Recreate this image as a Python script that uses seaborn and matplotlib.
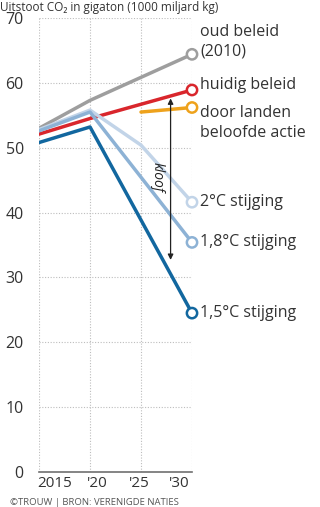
import matplotlib
matplotlib.use("Agg")
import matplotlib.pyplot as plt
import matplotlib.transforms as mtransforms
import seaborn as sns
import pandas as pd

sns.set_theme(style="white")
plt.rcParams['font.family'] = ['Open Sans', 'DejaVu Sans']

years = [2015, 2020, 2025, 2030]
series_names = ["oud beleid", "huidig beleid", "door landen", "2°C", "1,8°C", "1,5°C"]
oud_beleid = [53.0, 57.3, None, 64.4]
huidig_beleid = [52.1, 54.5, None, 58.9]
door_landen = [None, None, 55.5, 56.2]
stijging_2 = [52.8, 55.8, 50.4, 41.6]
stijging_18 = [52.6, 55.5, None, 35.4]
stijging_15 = [50.8, 53.2, None, 24.5]
end_labels = ["oud beleid\n(2010)", "huidig beleid", "door landen\nbeloofde actie",
              "2°C stijging", "1,8°C stijging", "1,5°C stijging"]
x_tick_labels = ["2015", "'20", "'25", "'30"]
y_ticks = [0, 10, 20, 30, 40, 50, 60, 70]
kloof_x = 2027.9
kloof_top = 57.6
kloof_bottom = 32.7

colors = ["#9e9e9e", "#d9262c", "#eea21c", "#c2d4e8", "#8db2d5", "#12679f"]

values = [oud_beleid, huidig_beleid, door_landen, stijging_2, stijging_18, stijging_15]
rows = []
for name, vals in zip(series_names, values):
    for y, v in zip(years, vals):
        if v is not None:
            rows.append({"jaar": y, "uitstoot": v, "scenario": name})
df = pd.DataFrame(rows)
ends = df[df["jaar"] == 2030].copy()

fig = plt.figure(figsize=(3.2, 5.07), dpi=100)
ax = fig.add_axes([0.122, 0.069, 0.478, 0.8955])

# grid
for yt in y_ticks[1:]:
    ax.axhline(yt, color="#bdbdbd", lw=0.8, ls=(0, (1, 1.5)), zorder=0)
for xt in years:
    ax.axvline(xt, color="#bdbdbd", lw=0.8, ls=(0, (1, 1.5)), zorder=0)

sns.lineplot(data=df, x="jaar", y="uitstoot", hue="scenario", hue_order=series_names,
             palette=colors, lw=2.5, legend=False, ax=ax, sort=True,
             estimator=None, zorder=3)
sns.scatterplot(data=ends, x="jaar", y="uitstoot", hue="scenario", hue_order=series_names,
                palette=colors, s=55, linewidth=1.8,
                legend=False, ax=ax, zorder=5)
sc = ax.collections[-1]
ec = [colors[series_names.index(n)] for n in ends["scenario"]]
sc.set_edgecolors(ec)
sc.set_facecolors("white")
sc.set_clip_on(False)

ax.set_xlim(2015, 2030)
ax.set_ylim(0, 70)
ax.set_xticks(years)
ax.set_xticklabels(x_tick_labels)
ax.set_yticks(y_ticks)
ax.set_xlabel("")
ax.set_ylabel("")
for s in ["top", "right", "left"]:
    ax.spines[s].set_visible(False)
ax.spines["bottom"].set_color("#707070")
ax.spines["bottom"].set_linewidth(1.2)
ax.tick_params(axis="both", length=0, labelsize=11.5, colors="#333333")
ax.tick_params(axis="y", pad=11)
ax.tick_params(axis="x", pad=3, labelsize=11)
x_shift_px = [16, 7, -2, -13]
for lab, dx in zip(ax.get_xticklabels(), x_shift_px):
    lab.set_transform(lab.get_transform() +
                      mtransforms.ScaledTranslation(dx / 100, 0, fig.dpi_scale_trans))

# end labels
label_y = [66.3, 59.6, 53.8, 41.6, 35.4, 24.5]
for name, txt, yv in zip(series_names, end_labels, label_y):
    ax.annotate(txt, xy=(2030, yv), xytext=(6, 0), textcoords="offset points",
                va="center", ha="left", fontsize=11.5, color="#333333",
                annotation_clip=False, linespacing=1.3)

# kloof arrow
ax.annotate("", xy=(kloof_x, kloof_bottom), xytext=(kloof_x, kloof_top),
            arrowprops=dict(arrowstyle="<|-|>", color="#222222", lw=0.9,
                            mutation_scale=8, shrinkA=0, shrinkB=0), zorder=6)
ax.text(kloof_x - 1.3, 45.4, "kloof", rotation=-90, style="italic", fontsize=10,
        ha="center", va="center", color="#222222")

fig.text(0.0, 0.999, "Uitstoot CO\u2082 in gigaton (1000 miljard kg)", fontsize=8.5,
         ha="left", va="top", color="#333333")
fig.text(0.03, 0.0, "\u00a9TROUW | BRON: VERENIGDE NATIES", fontsize=6.8,
         ha="left", va="bottom", color="#555555")

fig.savefig("out.png", dpi=100)
